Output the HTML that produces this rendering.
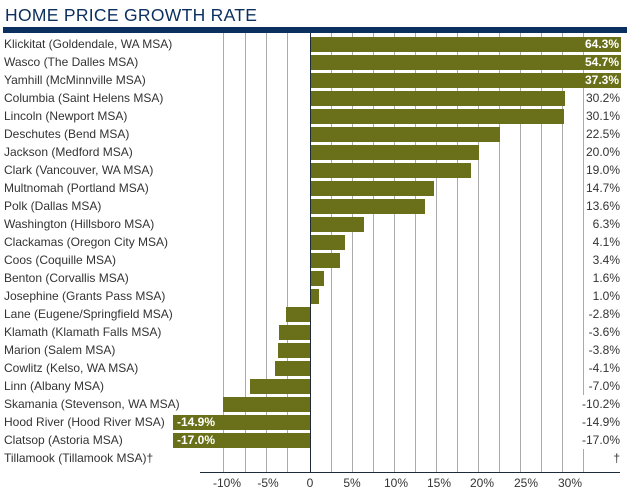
<!DOCTYPE html>
<html><head><style>
body{margin:0;width:632px;height:493px;background:#fff;position:relative;overflow:hidden;font-family:"Liberation Sans",sans-serif;}
.t{position:absolute;left:5px;top:5px;font-size:17.5px;color:#0b2f5e;letter-spacing:0.3px}
.hb{position:absolute;left:3px;top:27px;width:624px;height:6px;background:#0b2f5e}
.g{position:absolute;top:33px;height:440px;width:1px;background:#aaa}
.ax{position:absolute;left:310px;top:33px;height:440px;width:1px;background:#1d2b3a}
.xa{position:absolute;left:200px;top:472px;width:420px;height:1px;background:#1d2b3a}
.l{position:absolute;left:4px;font-size:12px;color:#333;white-space:nowrap;line-height:18px}
.b{position:absolute;height:15px;background:#6a7019}
.v{position:absolute;right:12px;font-size:12px;color:#333;line-height:18px;text-align:right;background:#fff;padding-left:1px}
.bv{position:absolute;font-size:12px;color:#fff;font-weight:bold;line-height:15px}
.x{position:absolute;top:476px;font-size:12px;color:#333;width:40px;text-align:center}
</style></head><body>
<div class="t">HOME PRICE GROWTH RATE</div>
<div class="hb"></div>
<div class="g" style="left:223px"></div><div class="g" style="left:245px"></div><div class="g" style="left:266px"></div><div class="g" style="left:287px"></div>
<div class="g" style="left:331px"></div><div class="g" style="left:352px"></div><div class="g" style="left:373px"></div><div class="g" style="left:394px"></div><div class="g" style="left:415px"></div><div class="g" style="left:436px"></div><div class="g" style="left:457px"></div><div class="g" style="left:478px"></div><div class="g" style="left:499px"></div><div class="g" style="left:520px"></div><div class="g" style="left:541px"></div><div class="g" style="left:562px"></div><div class="g" style="left:583px"></div>
<div id="rows"></div>
<div class="ax"></div><div class="xa"></div>
<div class="x" style="left:207px">-10%</div><div class="x" style="left:248px">-5%</div><div class="x" style="left:290px">0</div><div class="x" style="left:332px">5%</div><div class="x" style="left:376px">10%</div><div class="x" style="left:419px">15%</div><div class="x" style="left:462px">20%</div><div class="x" style="left:506px">25%</div><div class="x" style="left:550px">30%</div>
<script>
var d=[["Klickitat (Goldendale, WA MSA)",64.3],["Wasco (The Dalles MSA)",54.7],["Yamhill (McMinnville MSA)",37.3],["Columbia (Saint Helens MSA)",30.2],["Lincoln (Newport MSA)",30.1],["Deschutes (Bend MSA)",22.5],["Jackson (Medford MSA)",20.0],["Clark (Vancouver, WA MSA)",19.0],["Multnomah (Portland MSA)",14.7],["Polk (Dallas MSA)",13.6],["Washington (Hillsboro MSA)",6.3],["Clackamas (Oregon City MSA)",4.1],["Coos (Coquille MSA)",3.4],["Benton (Corvallis MSA)",1.6],["Josephine (Grants Pass MSA)",1.0],["Lane (Eugene/Springfield MSA)",-2.8],["Klamath (Klamath Falls MSA)",-3.6],["Marion (Salem MSA)",-3.8],["Cowlitz (Kelso, WA MSA)",-4.1],["Linn (Albany MSA)",-7.0],["Skamania (Stevenson, WA MSA)",-10.2],["Hood River (Hood River MSA)",-14.9],["Clatsop (Astoria MSA)",-17.0],["Tillamook (Tillamook MSA)\u2020",null]];
var h="";
d.forEach(function(r,i){var top=37+18*i;
h+='<div class="l" style="top:'+(top-2)+'px">'+r[0]+'</div>';
var v=r[1];
if(v===null){h+='<div class="v" style="top:'+(top-2)+'px">\u2020</div>';return;}
var s=v.toFixed(1)+'%';
if(v>35){h+='<div class="b" style="left:311px;top:'+top+'px;width:310px"></div><div class="bv" style="right:13px;top:'+top+'px">'+s+'</div>';}
else if(v>=0){h+='<div class="b" style="left:311px;top:'+top+'px;width:'+Math.round(v*8.4)+'px"></div><div class="v" style="top:'+(top-2)+'px">'+s+'</div>';}
else if(v<-12){h+='<div class="b" style="left:173px;top:'+top+'px;width:137px"></div><div class="bv" style="left:177px;top:'+top+'px">'+s+'</div><div class="v" style="top:'+(top-2)+'px">'+s+'</div>';}
else{var w=Math.round(-v*8.5);h+='<div class="b" style="left:'+(310-w)+'px;top:'+top+'px;width:'+w+'px"></div><div class="v" style="top:'+(top-2)+'px">'+s+'</div>';}
});
document.getElementById("rows").innerHTML=h;
</script>
</body></html>
